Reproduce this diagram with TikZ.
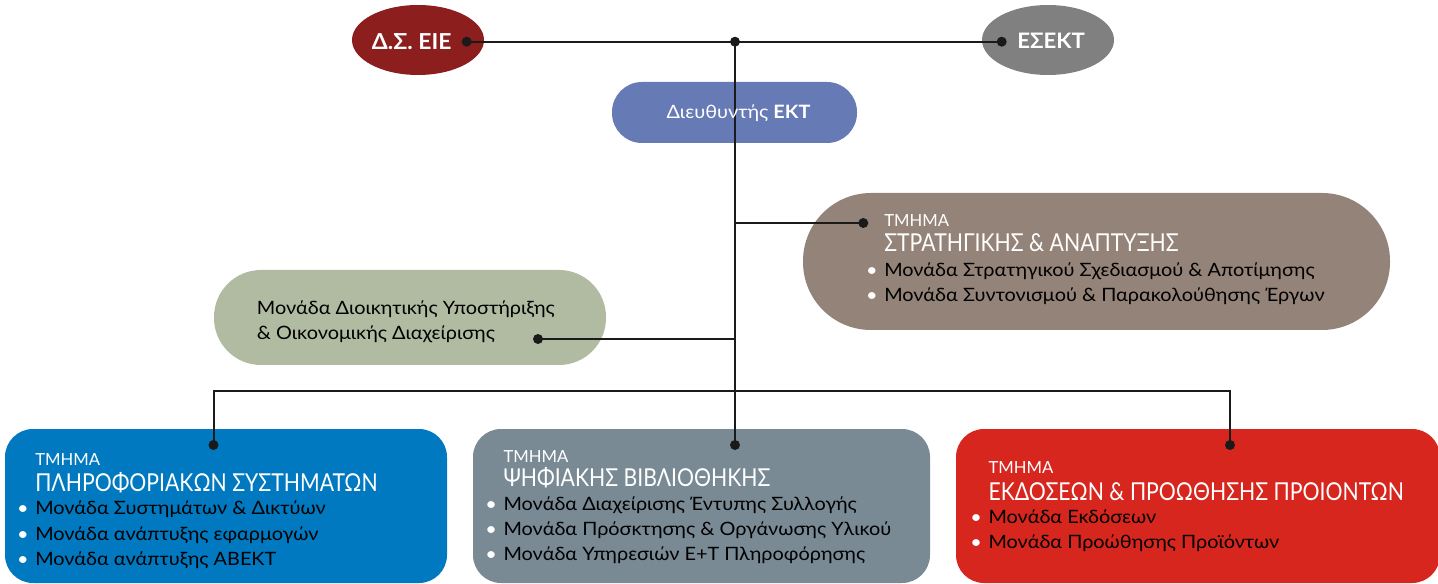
\documentclass[tikz,border=0pt]{standalone}
\usepackage{fontspec}
\setmainfont{Lato}
\newfontfamily\ttlfont[FakeStretch=0.86]{Lato}
\newfontfamily\itmfont[FakeStretch=1.08]{Lato}
\newfontfamily\bldfont[FakeStretch=1.04]{Lato}
\usetikzlibrary{shapes.geometric}
\definecolor{dsred}{HTML}{8C1E1E}
\definecolor{esgray}{HTML}{808080}
\definecolor{dirblue}{HTML}{667AB5}
\definecolor{stratbr}{HTML}{948378}
\definecolor{admsage}{HTML}{B1BBA2}
\definecolor{plsblue}{HTML}{0079C1}
\definecolor{psbgray}{HTML}{798A95}
\definecolor{eppred}{HTML}{D7261E}
\definecolor{linec}{HTML}{1A1A1A}
\newcommand{\bul}{\llap{\textcolor{white}{•}\hspace{5pt}}}
\begin{document}
\begin{tikzpicture}[x=0.75pt,y=-0.75pt,
  lnk/.style={line width=1.5pt, draw=linec},
  dot/.style={circle, fill=linec, inner sep=0pt, minimum size=7.5pt},
  blob/.style={inner sep=0pt, draw=none},
  tm/.style={anchor=base west, inner sep=0pt, text=white, font=\fontsize{12.5}{14}\selectfont},
  ttl/.style={anchor=base west, inner sep=0pt, text=white, font=\ttlfont\fontsize{18.5}{20}\selectfont},
  itm/.style={anchor=base west, inner sep=0pt, text=black, font=\itmfont\fontsize{13.8}{16}\selectfont},
]
\useasboundingbox (0,0) rectangle (1438,584);

% shapes
\node[blob, ellipse, fill=dsred, minimum width=99pt, minimum height=52.5pt] (ds) at (418,40) {};
\node[blob, ellipse, fill=esgray, minimum width=99pt, minimum height=52.5pt] (es) at (1048,40) {};
\node[blob, fill=dirblue, rounded corners=22.5pt, minimum width=183.75pt, minimum height=45.75pt] (dir) at (734.5,112.5) {};
\node[blob, fill=stratbr, rounded corners=51pt, minimum width=440.25pt, minimum height=102.75pt] (strat) at (1096.5,261.5) {};
\node[blob, fill=admsage, rounded corners=35.25pt, minimum width=294pt, minimum height=71.25pt] (adm) at (410,317.5) {};
\node[blob, fill=plsblue, rounded corners=21pt, minimum width=331.5pt, minimum height=115.5pt] (pls) at (226,506) {};
\node[blob, fill=psbgray, rounded corners=21pt, minimum width=342.75pt, minimum height=115.5pt] (psb) at (701.5,506) {};
\node[blob, fill=eppred, rounded corners=21pt, minimum width=363pt, minimum height=115.5pt] (epp) at (1198,506) {};

% junction coordinates
\coordinate (jStrat) at (735,223);
\coordinate (jAdm) at (735,339);
\coordinate (jBot) at (735,391);

% dots
\node[dot] (dDS) at (466.7,41.7) {};
\node[dot] (dES) at (1001.7,41.7) {};
\node[dot] (dTop) at (735,41.7) {};
\node[dot] (dStrat) at (863.3,223) {};
\node[dot] (dAdm) at (538,339) {};
\node[dot] (dPLS) at (213.5,445) {};
\node[dot] (dPSB) at (735,445) {};
\node[dot] (dEPP) at (1230,445) {};

% connectors
\draw[lnk] (dDS.center) -- (dES.center);
\draw[lnk] (dTop.center) -- (dPSB.center);
\draw[lnk] (jStrat) -- (dStrat.center);
\draw[lnk] (dAdm.center) -- (jAdm);
\draw[lnk] (dPLS.center) |- (jBot) -| (dEPP.center);

% texts: top
\node[anchor=base west, inner sep=0pt, text=white, font=\bldfont\fontsize{16.5}{18}\selectfont\bfseries] (dsT) at (371.7,49.3) {Δ.Σ. ΕΙΕ};
\node[anchor=base west, inner sep=0pt, text=white, font=\bldfont\fontsize{16}{18}\selectfont\bfseries] (esT) at (1017,48.3) {ΕΣΕΚΤ};
\node[anchor=base, inner sep=0pt, text=white, font=\itmfont\fontsize{13.8}{16}\selectfont] (dirT) at (738.5,118.3) {Διευθυντής \textbf{ΕΚΤ}};

% strategy
\node[tm] (s0) at (884,226.7) {ΤΜΗΜΑ};
\node[ttl] (s1) at (884,251.7) {ΣΤΡΑΤΗΓΙΚΗΣ \& ΑΝΑΠΤΥΞΗΣ};
\node[itm] (s2) at (884,277) {\bul Μονάδα Στρατηγικού Σχεδιασμού \& Αποτίμησης};
\node[itm] (s3) at (884,301.7) {\bul Μονάδα Συντονισμού \& Παρακολούθησης Έργων};

% admin
\node[itm] (a1) at (256.7,315) {Μονάδα Διοικητικής Υποστήριξης};
\node[itm] (a2) at (256.7,340) {\& Οικονομικής Διαχείρισης};

% blue
\node[tm] (p0) at (35,465) {ΤΜΗΜΑ};
\node[ttl] (p1) at (35,491) {ΠΛΗΡΟΦΟΡΙΑΚΩΝ ΣΥΣΤΗΜΑΤΩΝ};
\node[itm] (p2) at (35,514.3) {\bul Μονάδα Συστημάτων \& Δικτύων};
\node[itm] (p3) at (35,540) {\bul Μονάδα ανάπτυξης εφαρμογών};
\node[itm] (p4) at (35,565) {\bul Μονάδα ανάπτυξης ΑΒΕΚΤ};

% gray
\node[tm] (g0) at (503.3,462.7) {ΤΜΗΜΑ};
\node[ttl] (g1) at (503.3,486.7) {ΨΗΦΙΑΚΗΣ ΒΙΒΛΙΟΘΗΚΗΣ};
\node[itm] (g2) at (503.3,510) {\bul Μονάδα Διαχείρισης Έντυπης Συλλογής};
\node[itm] (g3) at (503.3,535) {\bul Μονάδα Πρόσκτησης \& Οργάνωσης Υλικού};
\node[itm] (g4) at (503.3,560) {\bul Μονάδα Υπηρεσιών Ε+Τ Πληροφόρησης};

% red
\node[tm] (r0) at (988.3,473.3) {ΤΜΗΜΑ};
\node[ttl] (r1) at (988.3,500) {ΕΚΔΟΣΕΩΝ \& ΠΡΟΩΘΗΣΗΣ ΠΡΟΙΟΝΤΩΝ};
\node[itm] (r2) at (988.3,523.3) {\bul Μονάδα Εκδόσεων};
\node[itm] (r3) at (988.3,548.3) {\bul Μονάδα Προώθησης Προϊόντων};
\end{tikzpicture}
\end{document}
